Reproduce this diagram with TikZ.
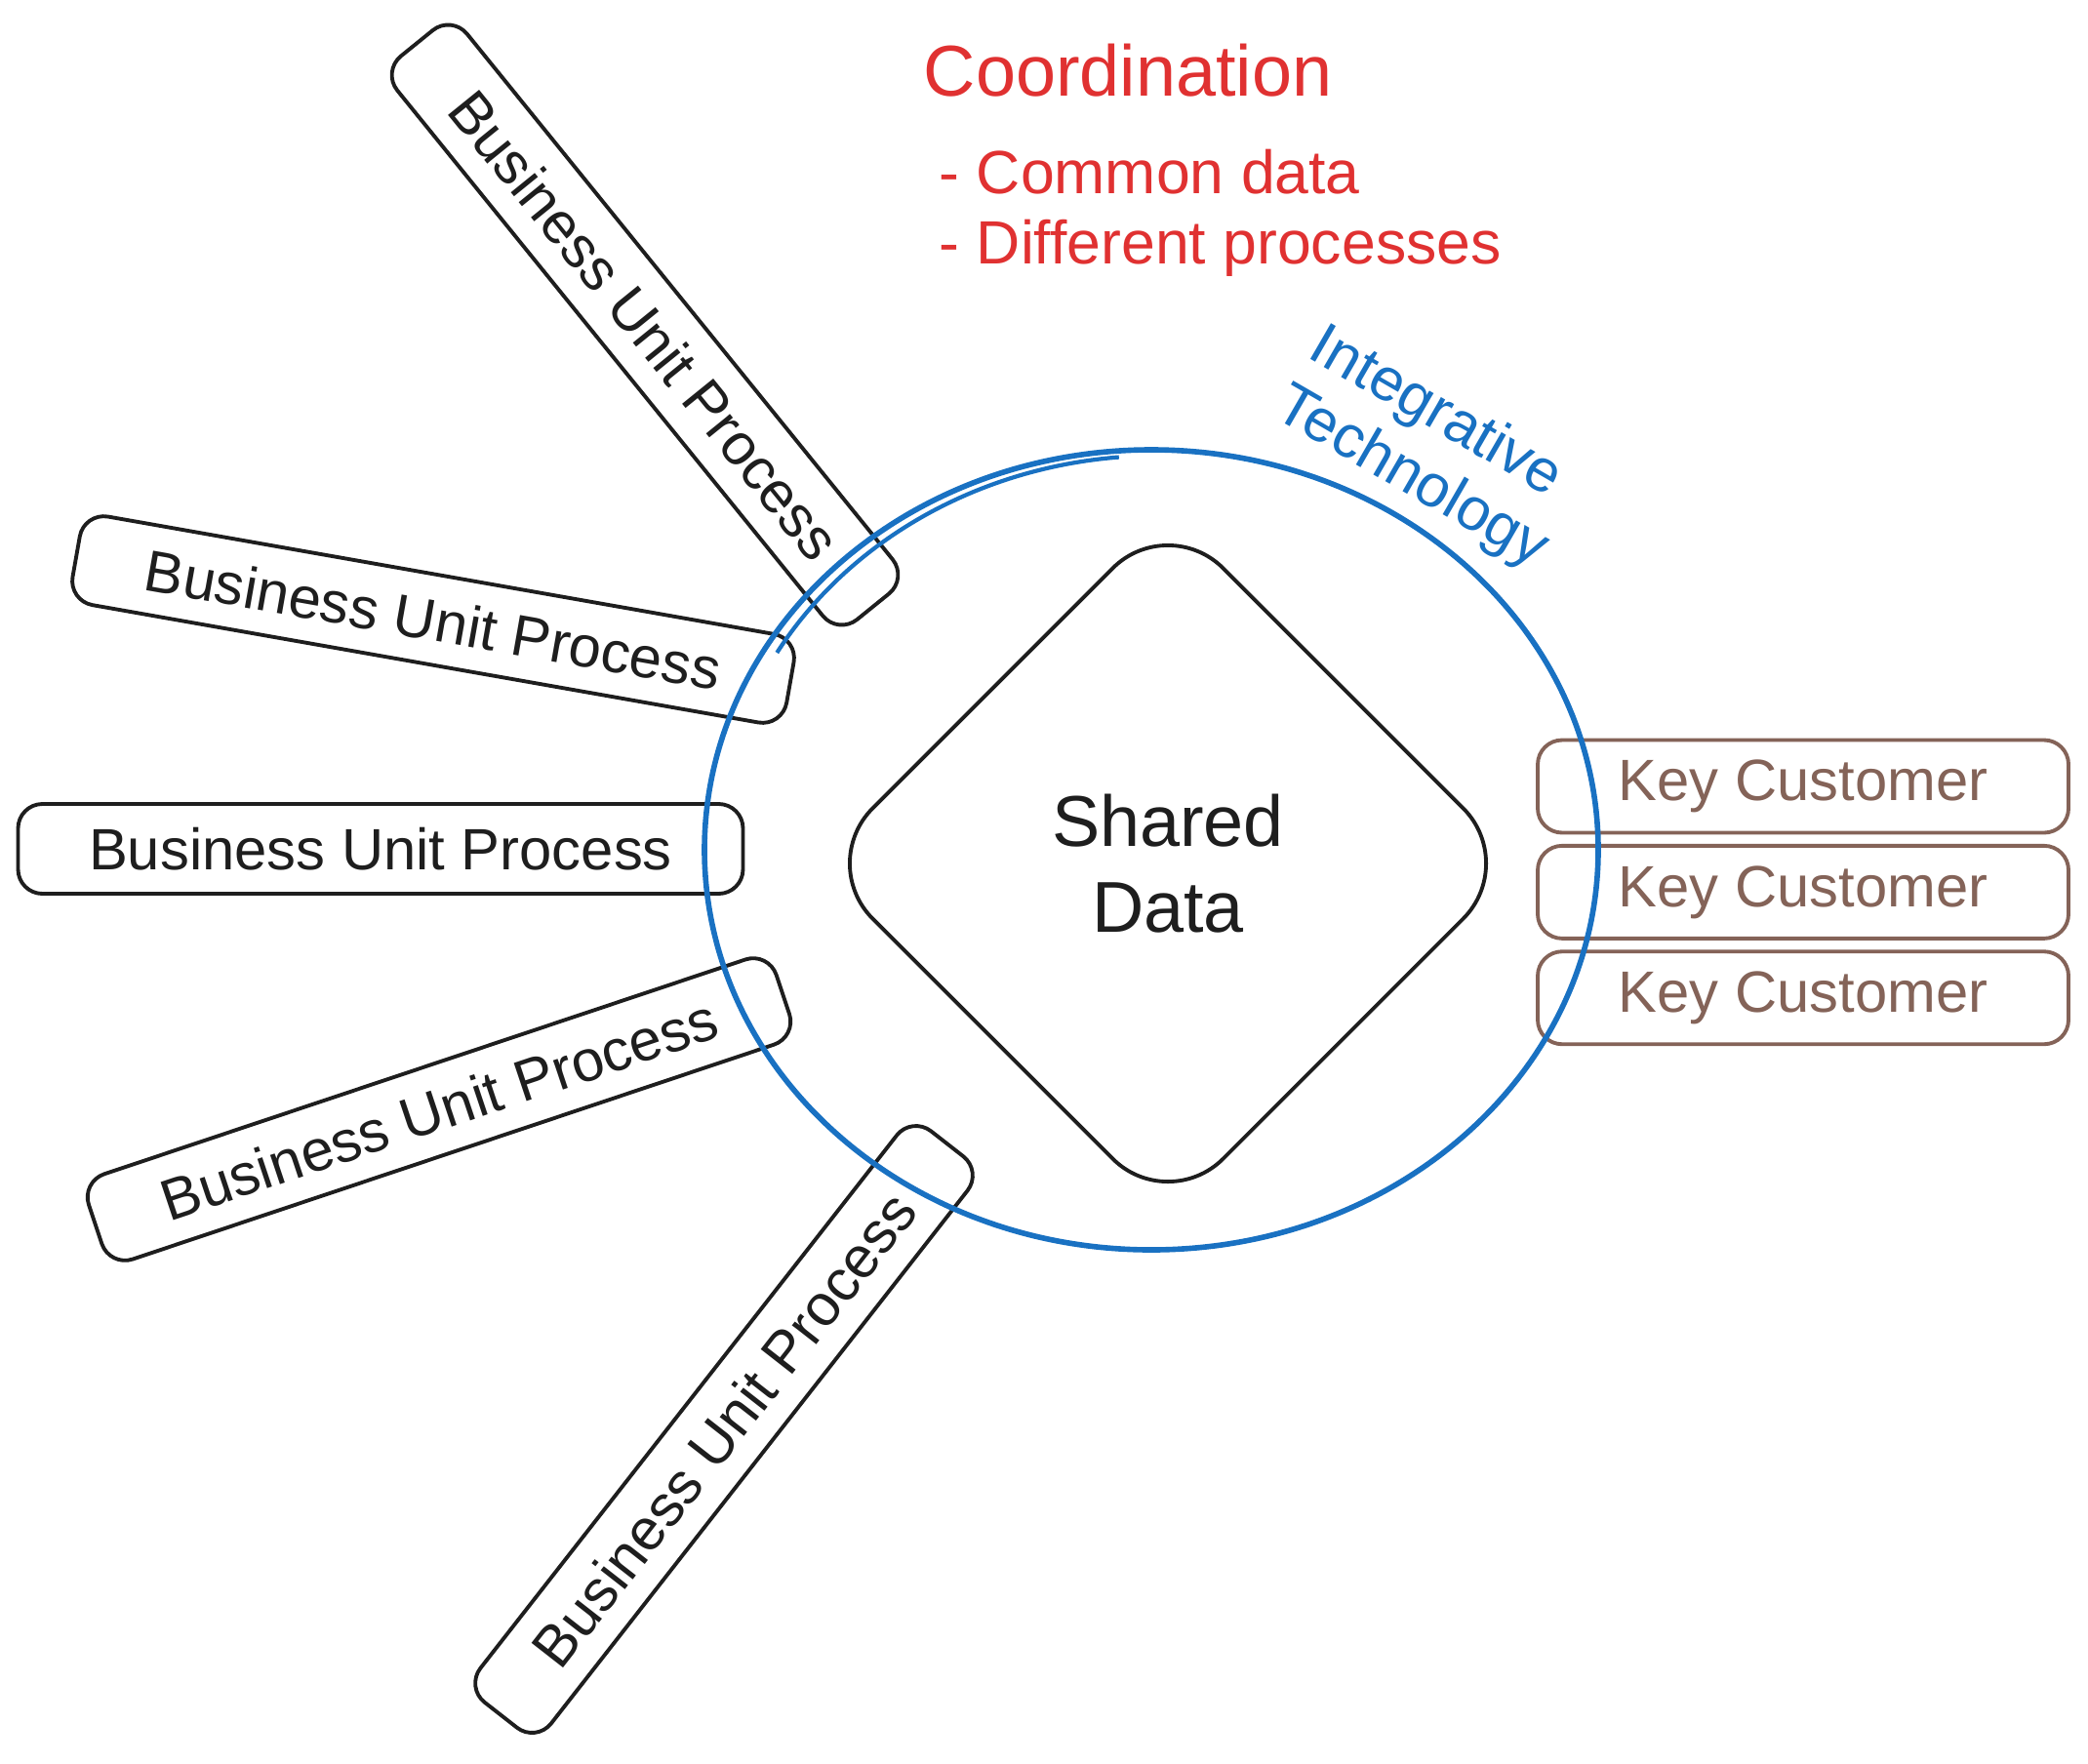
\documentclass[tikz,border=0pt]{standalone}
\usepackage{fontspec}
\setmainfont{Liberation Sans}
\usetikzlibrary{positioning}
\usetikzlibrary{shapes.geometric}

\definecolor{inkblack}{HTML}{1E1E1E}
\definecolor{inkred}{HTML}{E03131}
\definecolor{inkblue}{HTML}{1971C2}
\definecolor{inkbrown}{HTML}{846358}

\begin{document}
\begin{tikzpicture}[
        bubox/.style = {draw = inkblack, text = inkblack, line width = 1.1pt, rounded corners = 0.25cm, minimum width = 7.43cm, minimum height = 0.92cm, inner sep = 0pt, font = \fontsize{17}{20}\selectfont},
        keybox/.style = {draw = inkbrown, text = inkbrown, line width = 1.1pt, rounded corners = 0.25cm, minimum width = 5.44cm, minimum height = 0.95cm, inner sep = 0pt, font = \fontsize{17}{20}\selectfont}
    ]
            \useasboundingbox (0,0) rectangle (21.40,-18.07);
            % heading
            \node[text = inkred, anchor = base west, inner sep = 0pt, font = \fontsize{21}{25}\selectfont] (coord) at (9.46,-0.98) {Coordination};
            \node[text = inkred, anchor = west, align = left, inner sep = 0pt, font = \fontsize{17.8}{20.5}\selectfont] (points) at (9.62,-2.18) {- Common data\\- Different processes};
            % business units
            \node[bubox] (bu1) at (3.90,-8.70) {Business Unit Process};
            \node[bubox, rotate = -10] (bu2) at (4.44,-6.35) {Business Unit Process};
            \node[bubox, rotate = -51] (bu3) at (6.61,-3.33) {Business Unit Process};
            \node[bubox, rotate = 18.5] (bu4) at (4.50,-11.37) {Business Unit Process};
            \node[bubox, rotate = 52] (bu5) at (7.42,-14.65) {Business Unit Process};
            % customers
            \node[keybox] (kc1) at (18.48,-8.06) {Key Customer};
            \node[keybox, below = 0.095cm of kc1] (kc2) {Key Customer};
            \node[keybox, below = 0.095cm of kc2] (kc3) {Key Customer};
            % shared data
            \node[diamond, draw = inkblack, text = inkblack, line width = 1.1pt, rounded corners = 0.8cm, aspect = 1, minimum width = 7.2cm, minimum height = 7.2cm, inner sep = 0pt, align = center, font = \fontsize{21}{25}\selectfont] (shared) at (11.97,-8.85) {Shared\\Data};
            % integrative technology
            \draw[inkblue, line width = 1.6pt] (11.80,-8.71) ellipse [x radius = 4.58cm, y radius = 4.10cm];
            \draw[inkblue, line width = 1.2pt] (11.86,-8.71) ++(95:4.50cm and 4.04cm) arc [start angle = 95, end angle = 150, x radius = 4.50cm, y radius = 4.04cm];
            \node[text = inkblue, rotate = -30, align = left, font = \fontsize{17.5}{20}\selectfont] (tech) at (14.64,-4.60) {Integrative\\Technology};
\end{tikzpicture}
\end{document}
